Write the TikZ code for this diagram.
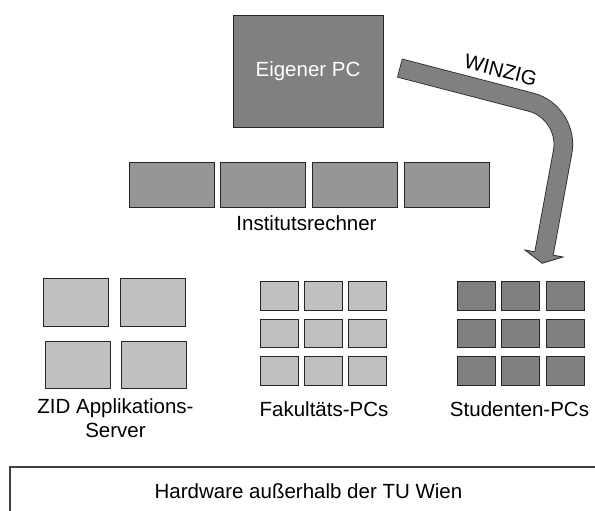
\documentclass[tikz,border=0pt]{standalone}
\usepackage{fontspec}
\setmainfont{Liberation Sans}
\definecolor{pcgray}{RGB}{128,128,128}
\definecolor{instgray}{RGB}{150,150,150}
\definecolor{srvgray}{RGB}{192,192,192}

\begin{document}
\begin{tikzpicture}[
    x=1pt, y=-1pt,
    txt/.style={font=\fontsize{20.5}{24}\selectfont, inner sep=0pt, anchor=base},
    box/.style={draw=black!85, line width=0.8pt, fill=#1, inner sep=0pt},
    box/.default=srvgray,
    instbox/.style={box=instgray, minimum width=85pt, minimum height=45pt},
    zidbox/.style={box, minimum width=65pt, minimum height=47.5pt},
    pcbox/.style={box=#1, minimum width=38pt, minimum height=28.5pt},
    pcbox/.default=srvgray,
    arrowline/.style={rounded corners=40pt, line cap=butt},
  ]
  \useasboundingbox (0,0) rectangle (595,511);

  \node[box=pcgray, minimum width=150pt, minimum height=112pt,
        font=\fontsize{20.5}{24}\selectfont, text=white] (pc) at (308,71) {Eigener PC};

  \foreach \i in {0,...,3}
    \node[instbox] (inst-\i) at (171.5+91.8*\i, 184.5) {};
  \node[txt] (instlbl) at (306.5,230) {Institutsrechner};

  \foreach \r in {0,1}
    \foreach \c in {0,1}
      \node[zidbox] (zid-\r-\c) at (76+76.5*\c+1.5*\r, 302.5+62.5*\r) {};
  \node[txt, align=center] (zidlbl) at (115.5,437) {ZID Applikations-\\Server};

  \foreach \r in {0,1,2}
    \foreach \c in {0,1,2} {
      \node[pcbox] (fak-\r-\c) at (279+44.3*\c, 296+37.5*\r) {};
      \node[pcbox=pcgray] (stud-\r-\c) at (476+44.8*\c, 296+37.5*\r) {};
    }
  \node[txt] (faklbl) at (324,416) {Fakultäts-PCs};
  \node[txt] (studlbl) at (519.5,416) {Studenten-PCs};

  \coordinate (w0) at (399.5,68);
  \coordinate (wk) at (569.9,112.3);
  \coordinate (w1) at (544,253.5);
  \coordinate (wl) at (525,250);
  \coordinate (wt) at (542.2,263.3);
  \coordinate (wr) at (563,257);
  \draw[arrowline, line width=19.5pt, draw=black!85] (w0) -- (wk) -- (w1);
  \filldraw[fill=pcgray, draw=black!85, line width=0.8pt] (wl) -- (wt) -- (wr) -- cycle;
  \draw[arrowline, line width=17.9pt, draw=pcgray, shorten <=0.8pt, shorten >=-1.5pt]
    (w0) -- (wk) -- (w1);
  \node[txt, rotate=-14.5] (winzig) at (499,77) {WINZIG};

  \begin{scope}
    \clip (0,0) rectangle (595,511);
    \draw[black!75, line width=1.2pt] (10,467) rectangle (610,530);
  \end{scope}
  \node[txt] (hw) at (308.5,498) {Hardware außerhalb der TU Wien};
\end{tikzpicture}
\end{document}
